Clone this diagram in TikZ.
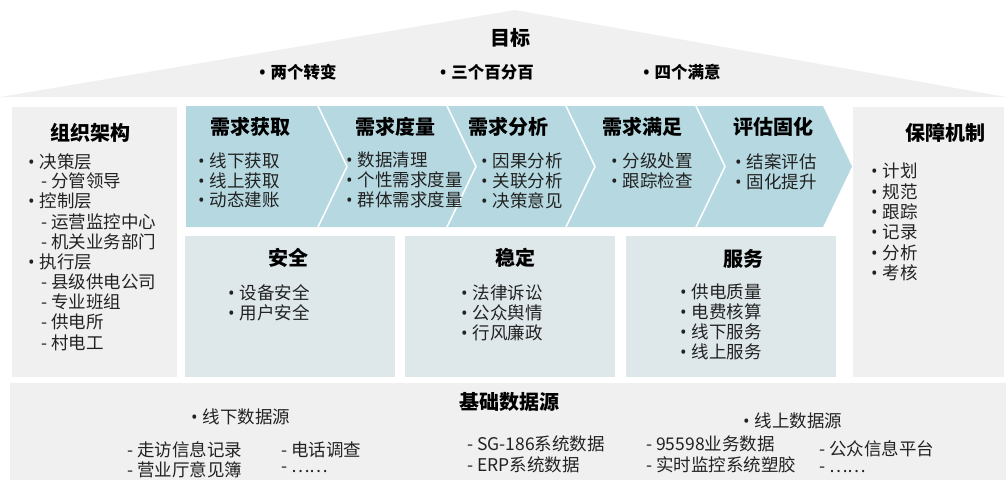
\documentclass[tikz,border=0pt]{standalone}
\usepackage{fontspec}
\setmainfont{Noto Sans CJK SC}
\newfontfamily\latinf{Open Sans}
\newcommand\bu{{\latinf •}\hspace{5pt}\ignorespaces}
\definecolor{graybg}{HTML}{F0F0F0}
\definecolor{bandblue}{HTML}{B6D9E1}
\definecolor{lowbox}{HTML}{DEE7EA}
\definecolor{txt}{HTML}{222222}
\begin{document}
\begin{tikzpicture}[x=1pt,y=-1pt,
  body/.style={anchor=west,inner sep=0pt,font=\fontsize{17.5}{20}\selectfont,text=txt},
  ttl/.style={inner sep=0pt,font=\fontsize{20}{24}\selectfont\bfseries,text=black},
  goal/.style={inner sep=0pt,font=\fontsize{16.5}{20}\selectfont\bfseries,text=black},
  sep/.style={draw=white,line width=1.5pt}]
\useasboundingbox (0,0) rectangle (1006,480);
% roof
\fill[graybg] (0,97) -- (515,10) -- (1006,97) -- cycle;
\node[ttl] (goalt) at (510,38) {目标};
\node[goal] (g1) at (298,72) {\bu 两个转变};
\node[goal] (g2) at (487,72) {\bu 三个百分百};
\node[goal] (g3) at (682,72) {\bu 四个满意};
% side boxes
\fill[graybg] (12,107) rectangle (177,377);
\fill[graybg] (853,107) rectangle (1004,377);
% chevron band
\fill[bandblue] (186,106) -- (823,106) -- (852,166.5) -- (823,227) -- (186,227) -- cycle;
\foreach \s in {318,447,566,696}
  \draw[sep] (\s,106) -- (\s+29,166.5) -- (\s,227);
% lower boxes
\fill[lowbox] (185,236) rectangle (395,377);
\fill[lowbox] (405,236) rectangle (615,377);
\fill[lowbox] (626,236) rectangle (836,377);
% bottom box
\fill[graybg] (10,383) rectangle (1006,480);
% left box
\node[ttl] (orgt) at (90,133) {组织架构};
\foreach \x/\y/\t [count=\i] in {
  28/162/{\bu 决策层}, 41/181/{- 分管领导}, 28/201/{\bu 控制层},
  41/222/{- 运营监控中心}, 41/242/{- 机关业务部门}, 28/262/{\bu 执行层},
  41/282/{- 县级供电公司}, 41/302/{- 专业班组}, 41/322/{- 供电所}, 41/343/{- 村电工}}
  \node[body] (org\i) at (\x,\y) {\t};
% right box
\node[ttl] (guart) at (945,133) {保障机制};
\foreach \t [count=\i] in {计划,规范,跟踪,记录,分析,考核}
  \node[body] (gua\i) at (871,{171+20.4*(\i-1)}) {\bu \t};
% segments
\node[ttl] (s1t) at (250,127) {需求获取};
\node[ttl] (s2t) at (395,127) {需求度量};
\node[ttl] (s3t) at (508,127) {需求分析};
\node[ttl] (s4t) at (642,127) {需求满足};
\node[ttl] (s5t) at (773,127) {评估固化};
\foreach \t [count=\i] in {线下获取,线上获取,动态建账}
  \node[body] (s1\i) at (198,{161+19.5*(\i-1)}) {\bu \t};
\foreach \t [count=\i] in {数据清理,个性需求度量,群体需求度量}
  \node[body] (s2\i) at (346,{160+19.8*(\i-1)}) {\bu \t};
\foreach \t [count=\i] in {因果分析,关联分析,决策意见}
  \node[body] (s3\i) at (481,{161+20*(\i-1)}) {\bu \t};
\foreach \t [count=\i] in {分级处置,跟踪检查}
  \node[body] (s4\i) at (611,{161+19.5*(\i-1)}) {\bu \t};
\foreach \t [count=\i] in {结案评估,固化提升}
  \node[body] (s5\i) at (735,{162+20*(\i-1)}) {\bu \t};
% lower boxes text
\node[ttl] (at) at (288,258) {安全};
\foreach \t [count=\i] in {设备安全,用户安全}
  \node[body] (a\i) at (228,{293+20*(\i-1)}) {\bu \t};
\node[ttl] (bt) at (515,258) {稳定};
\foreach \t [count=\i] in {法律诉讼,公众舆情,行风廉政}
  \node[body] (b\i) at (461,{293+19.7*(\i-1)}) {\bu \t};
\node[ttl] (ct) at (743,259) {服务};
\foreach \t [count=\i] in {供电质量,电费核算,线下服务,线上服务}
  \node[body] (c\i) at (680,{292+20*(\i-1)}) {\bu \t};
% bottom text
\node[ttl] (dt) at (509,402) {基础数据源};
\node[body] (d1) at (191,417) {\bu 线下数据源};
\node[body] (d2) at (127,450) {- 走访信息记录};
\node[body] (d3) at (127,470) {- 营业厅意见簿};
\node[body] (d4) at (281,450) {- 电话调查};
\node[body] (d5) at (281,470) {- ……};
\node[body] (d6) at (467,444) {- SG-186系统数据};
\node[body] (d7) at (467,465) {- ERP系统数据};
\node[body] (d8) at (743,421) {\bu 线上数据源};
\node[body] (d9) at (646,444) {- 95598业务数据};
\node[body] (d10) at (646,465) {- 实时监控系统塑胶};
\node[body] (d11) at (819,449) {- 公众信息平台};
\node[body] (d12) at (819,470) {- ……};
\end{tikzpicture}
\end{document}
